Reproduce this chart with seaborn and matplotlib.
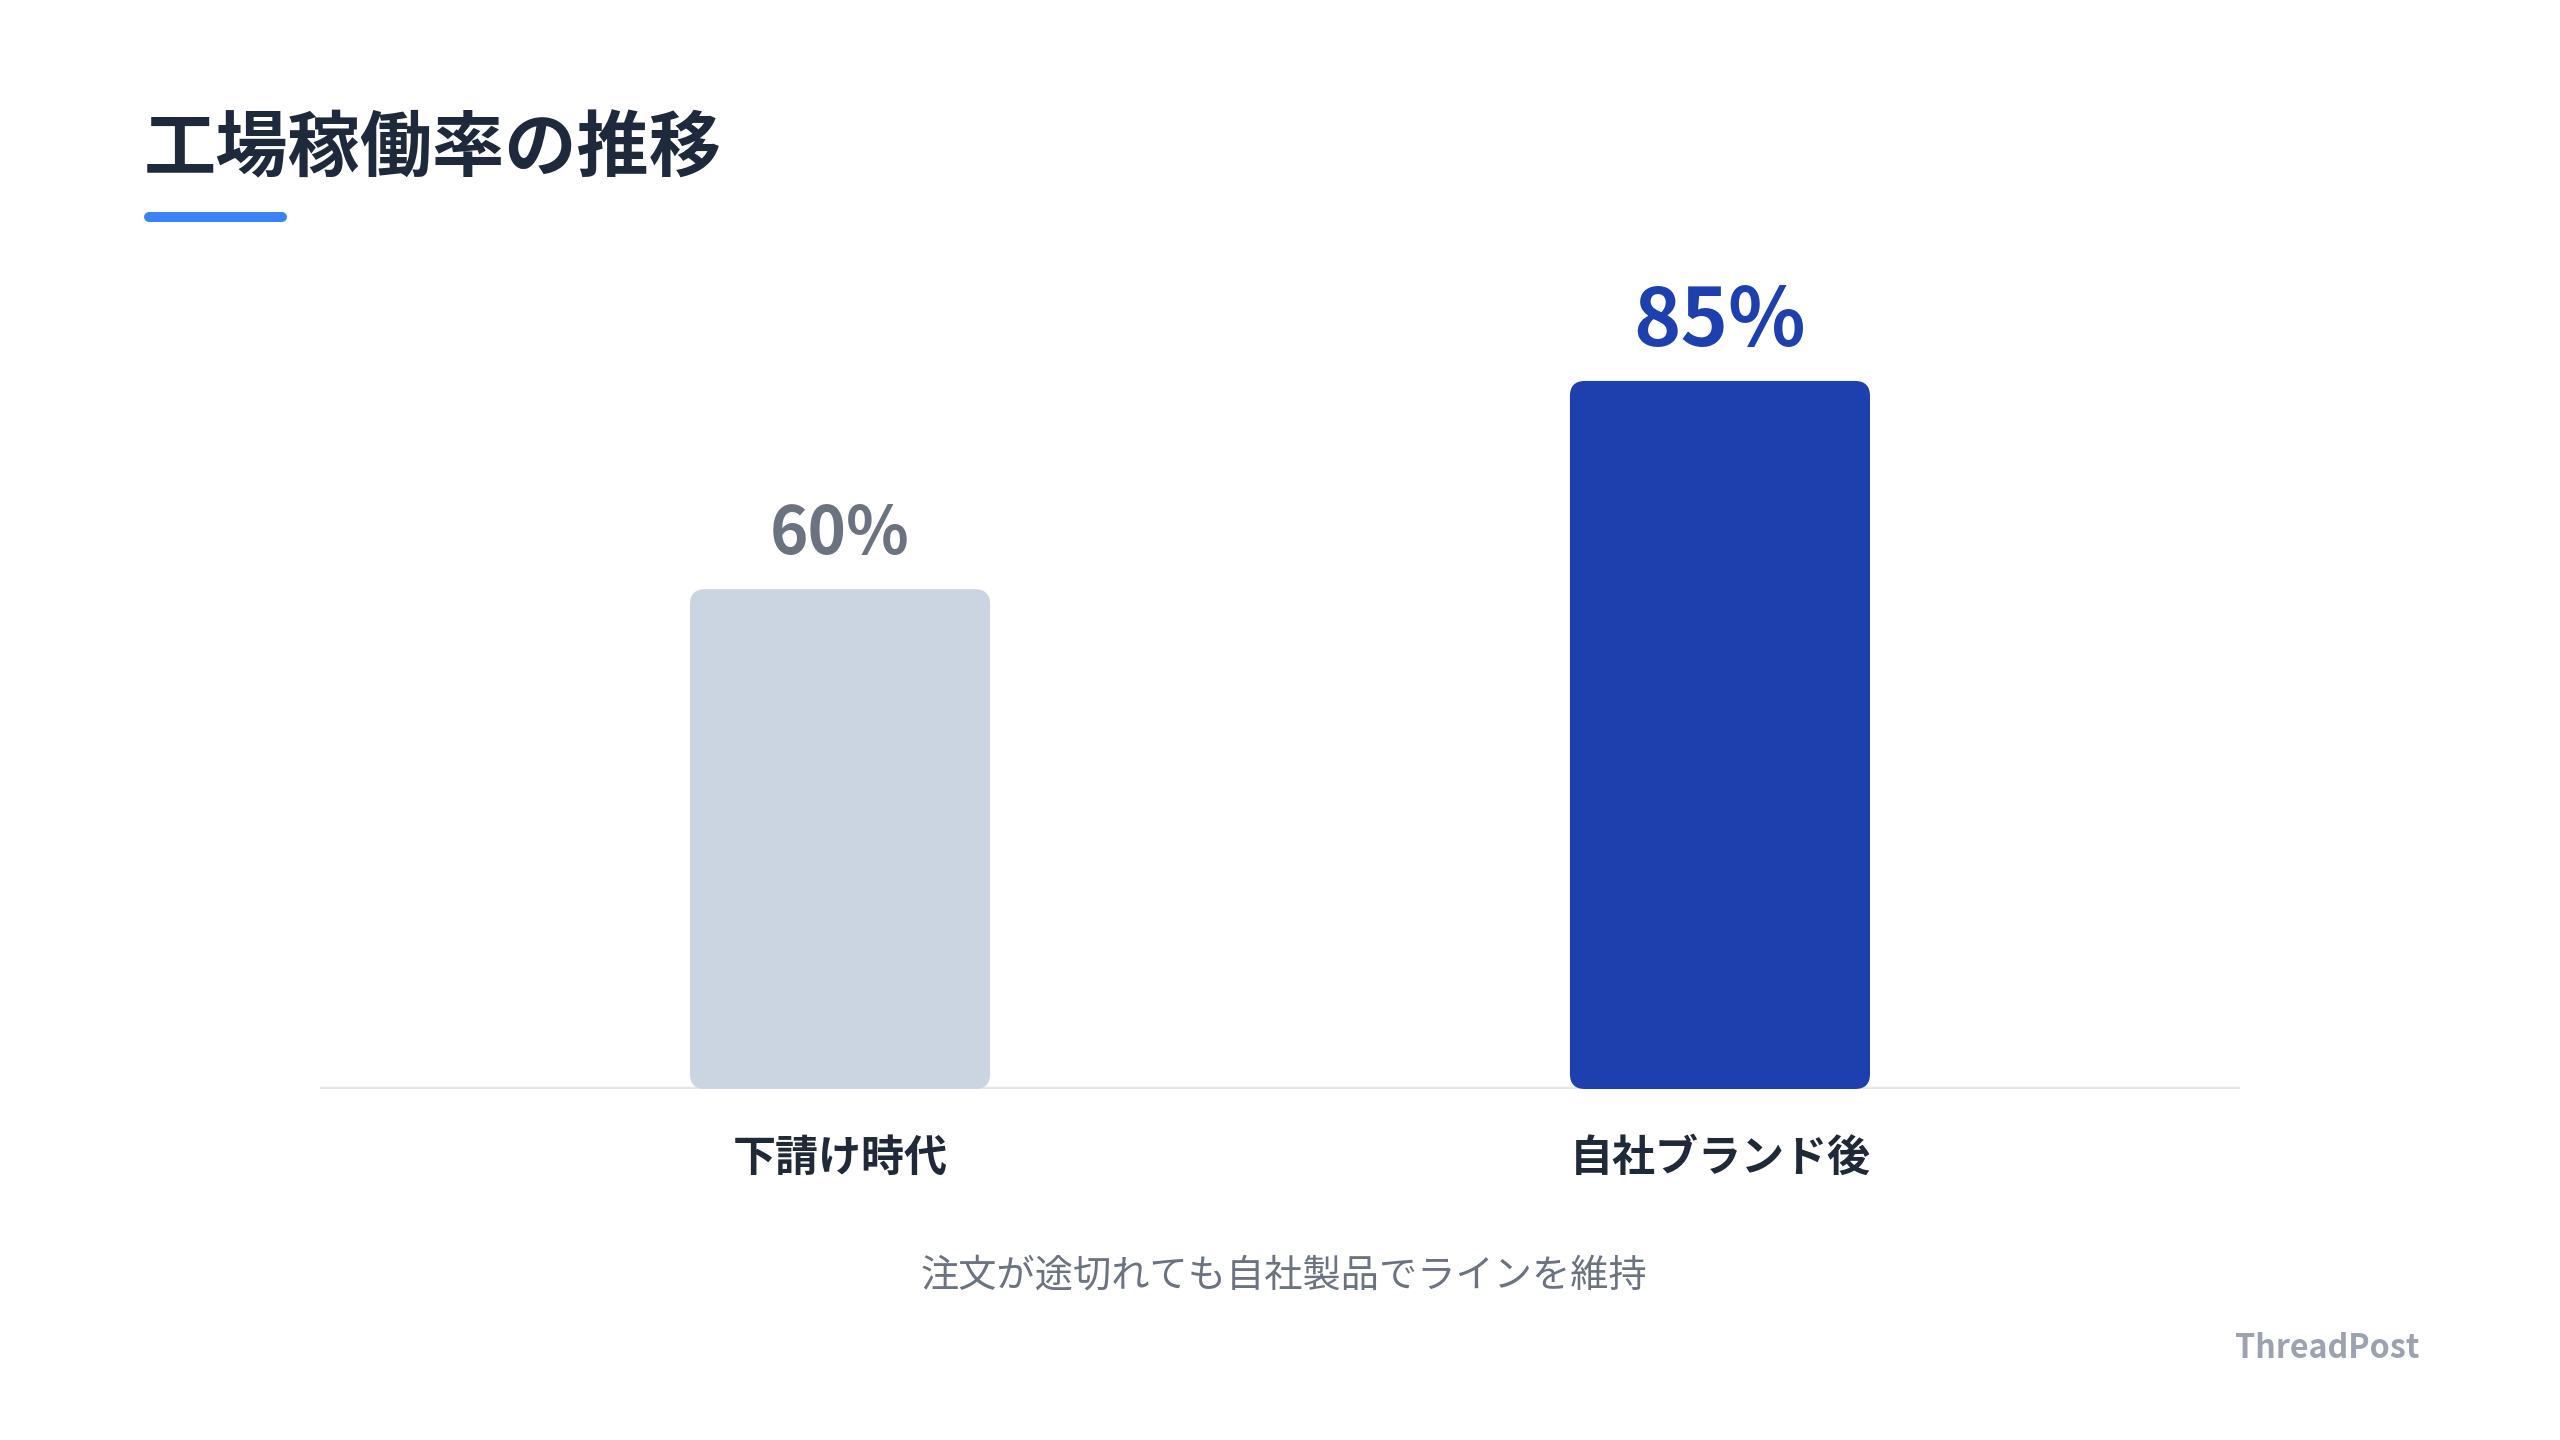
import matplotlib
matplotlib.use("Agg")
import matplotlib.pyplot as plt
import seaborn as sns
import pandas as pd
from matplotlib.patches import FancyBboxPatch
from matplotlib.lines import Line2D

# ---- data ----
categories = ["下請け時代", "自社ブランド後"]
values = [60, 85]
value_labels = ["60%", "85%"]
title = "工場稼働率の推移"
caption = "注文が途切れても自社製品でラインを維持"
brand = "ThreadPost"

bar_colors = ["#cbd5e1", "#1e40af"]
label_colors = ["#6b7280", "#1e40af"]
label_sizes = [47, 58]

sns.set_theme(style="white")
plt.rcParams['font.family'] = ['Noto Sans CJK JP', 'DejaVu Sans']

W, H = 2560, 1440
fig = plt.figure(figsize=(W / 100, H / 100), dpi=100)
fig.patch.set_facecolor("white")
ax = fig.add_axes([320 / W, (H - 1089) / H, 1920 / W, 833 / H])

df = pd.DataFrame({"cat": categories, "val": values})
sns.barplot(data=df, x="cat", y="val", hue="cat", palette=bar_colors,
            legend=False, width=0.341, saturation=1, ax=ax, zorder=3)

ax.set_xlim(-0.591, 1.591)
ax.set_ylim(0, 100)
for s in ax.spines.values():
    s.set_visible(False)
ax.set_yticks([])
ax.set_xlabel("")
ax.set_ylabel("")
ax.set_xticks(range(len(categories)))
ax.set_xticklabels(categories, fontsize=31, fontweight="bold", color="#1f2937")
ax.tick_params(axis="x", length=0, pad=34)
ax.axhline(0, color="#e5e7eb", lw=3.2, zorder=1)

# rounded bars
fig.canvas.draw()
bbox = ax.get_window_extent()
xr = ax.get_xlim()[1] - ax.get_xlim()[0]
yr = ax.get_ylim()[1] - ax.get_ylim()[0]
rad_px = 15
rx = rad_px * xr / bbox.width
ry = rad_px * yr / bbox.height
for p in list(ax.patches):
    x0, y0, w, h = p.get_x(), p.get_y(), p.get_width(), p.get_height()
    fc = p.get_facecolor()
    p.remove()
    ax.add_patch(FancyBboxPatch((x0, y0), w, h,
                                boxstyle=f"round,pad=0,rounding_size={rx}",
                                mutation_aspect=ry / rx, fc=fc, ec="none",
                                zorder=3))

# value labels
for i, v in enumerate(values):
    ax.annotate(value_labels[i], xy=(i, v), xytext=(0, 25),
                textcoords="offset points", ha="center", va="baseline",
                fontsize=label_sizes[i], fontweight="bold",
                color=label_colors[i], annotation_clip=False)

# title + underline
fig.text(144 / W, 1 - 171 / H, title, ha="left", va="baseline",
         fontsize=52, fontweight="bold", color="#1e293b")
fig.add_artist(Line2D([149 / W, 282 / W], [1 - 217 / H, 1 - 217 / H],
                      transform=fig.transFigure, color="#3b82f6", lw=7.2,
                      solid_capstyle="round"))

# caption and brand
fig.text(1284 / W, 1 - 1287 / H, caption, ha="center", va="baseline",
         fontsize=27.5, color="#6b7280")
fig.text(2419 / W, 1 - 1358 / H, brand, ha="right", va="baseline",
         fontsize=23.2, fontweight="bold", color="#9ca3af")

fig.savefig("out.png", dpi=100, facecolor="white")
